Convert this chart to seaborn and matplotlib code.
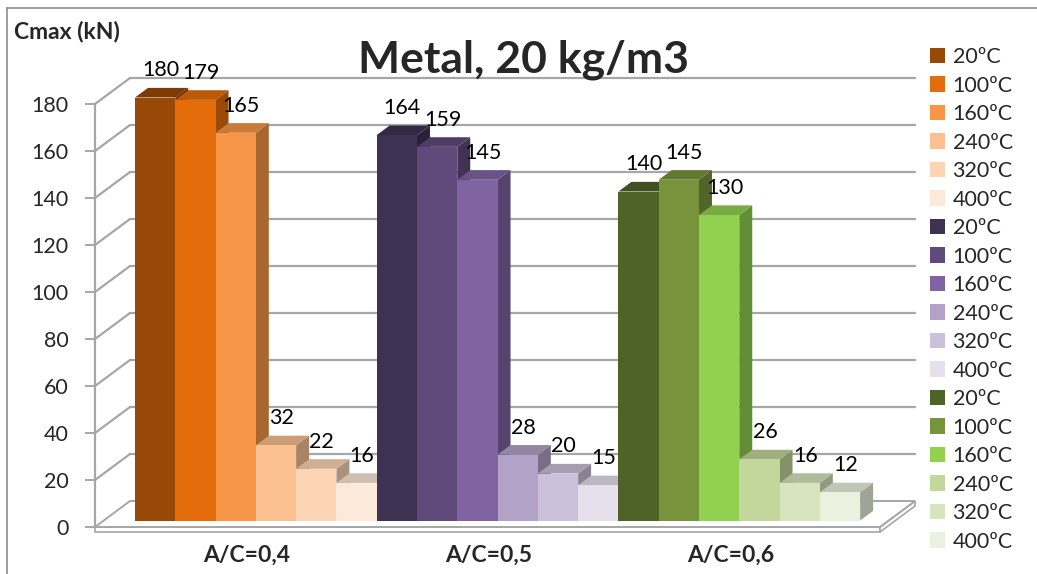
import matplotlib
matplotlib.use("Agg")
import matplotlib.pyplot as plt
import matplotlib.colors as mcolors
from matplotlib.patches import Polygon, Patch, Rectangle
from matplotlib.lines import Line2D
import numpy as np
import pandas as pd
import seaborn as sns

# ---- data ----
grupos = ["A/C=0,4", "A/C=0,5", "A/C=0,6"]
temperaturas = ["20ºC", "100ºC", "160ºC", "240ºC", "320ºC", "400ºC"]
valores_04 = [180, 179, 165, 32, 22, 16]
valores_05 = [164, 159, 145, 28, 20, 15]
valores_06 = [140, 145, 130, 26, 16, 12]
colores_04 = ["#984807", "#e46c0a", "#f79646", "#fac090", "#fcd5b5", "#fde9d9"]
colores_05 = ["#3f3151", "#604a7b", "#8064a2", "#b3a2c7", "#ccc1da", "#e5e0ec"]
colores_06 = ["#4f6228", "#77933c", "#92d050", "#c3d69b", "#d7e4bd", "#ebf1de"]
ticks_y = [0, 20, 40, 60, 80, 100, 120, 140, 160, 180]
titulo = "Metal, 20 kg/m3"
eje_y = "Cmax (kN)"

valores = [valores_04, valores_05, valores_06]
colores = [colores_04, colores_05, colores_06]

filas = []
paleta = {}
pos = 0
for g, vals, cols in zip(grupos, valores, colores):
    for t, v, c in zip(temperaturas, vals, cols):
        clave = f"{g} {t}"
        filas.append({"pos": pos, "valor": v, "serie": clave})
        paleta[clave] = c
        pos += 1
df = pd.DataFrame(filas)

sns.set_theme(style="white")
plt.rcParams["font.family"] = ["Lato", "DejaVu Sans"]

FW, FH = 1037, 574
fig = plt.figure(figsize=(FW / 100, FH / 100), dpi=100)
ax_l, ax_b, ax_w, ax_h = 95, 47, 785, 423  # front plane, in pixels
ax = fig.add_axes([ax_l / FW, ax_b / FH, ax_w / FW, ax_h / FH])

sns.barplot(data=df, x="pos", y="valor", hue="serie", palette=paleta,
            native_scale=True, width=1.0, dodge=False, legend=False,
            saturation=1, linewidth=0, edgecolor="none", ax=ax)

barras = [p for p in ax.patches if isinstance(p, Rectangle) and p.get_height() > 0]
barras = sorted(barras, key=lambda p: p.get_x())

XL, XR = -1.276, 18.21
ax.set_xlim(XL, XR)
ax.set_ylim(0, 180)
ax.set_xlabel("")
ax.set_ylabel("")

# oblique depth vector (pixels -> data units)
DX = 35 * (XR - XL) / ax_w
DY = 26 * 180 / ax_h
F0, FD = 0.25, 0.37  # bar depth start / thickness

gris = "#a6a6a6"

# floor
floor = Polygon([(XL, 0), (XR, 0), (XR + DX, DY), (XL + DX, DY)],
                closed=True, facecolor="white", edgecolor=gris, lw=1.4,
                zorder=0.5, clip_on=False)
ax.add_patch(floor)
slab = 5 * 180 / ax_h
ax.add_patch(Polygon([(XL, 0), (XR, 0), (XR, -slab), (XL, -slab)], closed=True,
                     facecolor="white", edgecolor=gris, lw=1.2, zorder=0.4, clip_on=False))
ax.add_patch(Polygon([(XR, 0), (XR + DX, DY), (XR + DX, DY - slab), (XR, -slab)], closed=True,
                     facecolor="white", edgecolor=gris, lw=1.2, zorder=0.4, clip_on=False))

# back wall grid and side wall lines
for t in ticks_y[1:]:
    ax.add_line(Line2D([XL + DX, XR + DX], [t + DY, t + DY], color=gris, lw=1.6,
                       zorder=0.6, clip_on=False))
    ax.add_line(Line2D([XL, XL + DX], [t, t + DY], color=gris, lw=1.6,
                       zorder=0.6, clip_on=False))


def tono(c, k):
    r, g, b = mcolors.to_rgb(c)
    return (r * k, g * k, b * k)


for i, p in enumerate(barras):
    x0 = p.get_x()
    w = p.get_width()
    h = p.get_height()
    c = p.get_facecolor()
    z = 2 + i * 0.01
    fx = x0 + F0 * DX
    fy = F0 * DY
    p.set_x(fx)
    p.set_y(fy)
    p.set_zorder(z + 0.003)
    side = Polygon([(fx + w, fy), (fx + w + FD * DX, fy + FD * DY),
                    (fx + w + FD * DX, fy + h + FD * DY), (fx + w, fy + h)],
                   closed=True, facecolor=tono(c, 0.68), edgecolor="none",
                   zorder=z + 0.001, clip_on=False)
    top = Polygon([(fx, fy + h), (fx + w, fy + h),
                   (fx + w + FD * DX, fy + h + FD * DY), (fx + FD * DX, fy + h + FD * DY)],
                  closed=True, facecolor=tono(c, 0.82), edgecolor="none",
                  zorder=z + 0.002, clip_on=False)
    p.set_clip_on(False)
    ax.add_patch(side)
    ax.add_patch(top)
    ax.annotate(f"{int(round(h))}", xy=(fx + w / 2, fy + h), xytext=(4, 19.5),
                textcoords="offset points", ha="center", va="center",
                fontsize=15.5, color="black", zorder=10, annotation_clip=False)

# axes styling
for s in ["top", "right", "bottom"]:
    ax.spines[s].set_visible(False)
ax.spines["left"].set_color(gris)
ax.spines["left"].set_linewidth(1.6)
ax.spines["left"].set_zorder(0.7)
ax.set_yticks(ticks_y)
ax.set_yticklabels([str(t) for t in ticks_y])
ax.tick_params(axis="y", length=7, width=1.4, color=gris, pad=12,
               labelsize=15.5, left=True)
centros = [2.5, 8.5, 14.5]
ax.set_xticks(centros)
ax.set_xticklabels(grupos)
ax.tick_params(axis="x", length=0, pad=13, labelsize=16.5)
for lbl in ax.get_xticklabels():
    lbl.set_fontweight("bold")

# titles
fig.text(524 / FW, 1 - 60 / FH, titulo, ha="center", va="center",
         fontsize=32, fontweight="bold")
fig.text(14 / FW, 1 - 32 / FH, eje_y, ha="left", va="center",
         fontsize=16.5, fontweight="bold")

# legend
handles = []
labels = []
for cols in colores:
    for t, c in zip(temperaturas, cols):
        handles.append(Patch(facecolor=c, edgecolor="none"))
        labels.append(t)
fig.legend(handles, labels, loc="upper left", bbox_to_anchor=(930 / FW, 1 - 47 / FH),
           frameon=False, fontsize=15.5, handlelength=0.7, handleheight=0.7,
           handletextpad=0.35, labelspacing=0.395, borderpad=0, borderaxespad=0)

# chart border
fig.add_artist(Line2D([7 / FW, 1.0], [1 - 8 / FH, 1 - 8 / FH], color="#8c8c8c", lw=1.2,
                      transform=fig.transFigure))
fig.add_artist(Line2D([7 / FW, 7 / FW], [0, 1 - 8 / FH], color="#8c8c8c", lw=1.2,
                      transform=fig.transFigure))

fig.savefig("out.png", dpi=100)
